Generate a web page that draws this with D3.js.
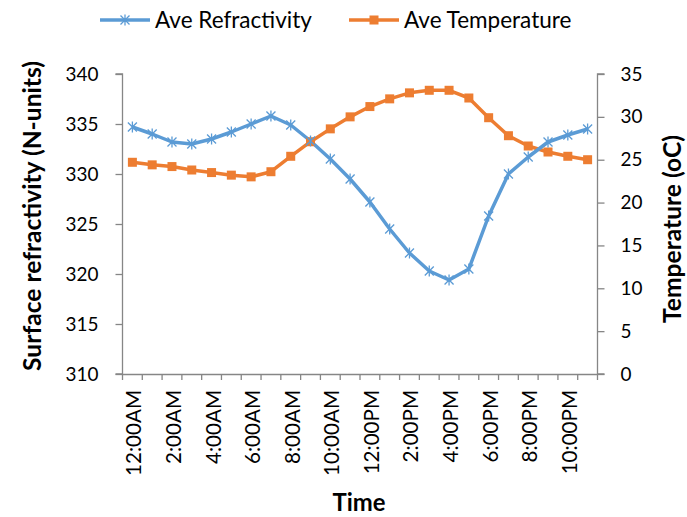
<!DOCTYPE html>
<html><head><meta charset="utf-8">
<script src="https://cdn.jsdelivr.net/npm/d3@7"></script>
<style>body{margin:0;background:#fff;} text{font-family:Lato, "Open Sans", sans-serif;}</style>
</head><body>
<svg id="c" width="687" height="517"></svg>
<script>
const hours = ["12:00AM","1:00AM","2:00AM","3:00AM","4:00AM","5:00AM","6:00AM","7:00AM","8:00AM","9:00AM","10:00AM","11:00AM",
"12:00PM","1:00PM","2:00PM","3:00PM","4:00PM","5:00PM","6:00PM","7:00PM","8:00PM","9:00PM","10:00PM","11:00PM"];
const refractivity = [334.7,334.0,333.2,333.0,333.5,334.2,335.0,335.8,334.9,333.3,331.5,329.5,
327.2,324.5,322.1,320.3,319.4,320.5,325.8,330.0,331.7,333.2,333.9,334.5];
const temperature = [24.7,24.4,24.2,23.8,23.5,23.2,23.0,23.6,25.4,27.1,28.6,30.0,
31.2,32.1,32.8,33.1,33.1,32.2,29.9,27.8,26.6,25.9,25.4,25.0];
const leftTicks = [310,315,320,325,330,335,340];
const rightTicks = [0,5,10,15,20,25,30,35];
const tickLabels = hours.filter((d,i)=>i%2===0);

const svg = d3.select("#c");
const x0 = 122.5, x1 = 597.5, yTop = 74, yBot = 374;
const x = d3.scaleBand().domain(hours).range([x0,x1]);
const yL = d3.scaleLinear().domain([310,340]).range([yBot,yTop]);
const yR = d3.scaleLinear().domain([0,35]).range([yBot,yTop]);
const axisCol = "#868686";

function fitSize(sample, target, base){
  const t = svg.append("text").attr("font-size",base).attr("font-weight",sample.bold?"bold":null).text(sample.text);
  const w = t.node().getComputedTextLength(); t.remove();
  return base*target/w;
}
const tickFont = fitSize({text:"340"},33,20);
const catFont = fitSize({text:"12:00AM"},86,18);
const legFont = fitSize({text:"Ave Refractivity"},157,20);
const yTitleFont = fitSize({text:"Surface refractivity (N-units)",bold:true},310,20);
const timeFont = fitSize({text:"Time",bold:true},53,20);

const gL = svg.append("g").attr("transform",`translate(${x0},0)`)
  .call(d3.axisLeft(yL).tickValues(leftTicks).tickSize(7).tickPadding(17).tickFormat(d3.format("d")));
const gR = svg.append("g").attr("transform",`translate(${x1},0)`)
  .call(d3.axisRight(yR).tickValues(rightTicks).tickSize(7).tickPadding(16).tickFormat(d3.format("d")));
const gB = svg.append("g").attr("transform",`translate(0,${yBot})`)
  .call(d3.axisBottom(x).tickValues([]).tickSizeOuter(0));
gB.selectAll("line.bt").data(d3.range(hours.length+1)).join("line").attr("class","bt")
  .attr("x1",i=>x0+i*x.step()).attr("x2",i=>x0+i*x.step()).attr("y1",0).attr("y2",6)
  .attr("stroke",axisCol).attr("stroke-width",1.3);
gB.selectAll("text.lb").data(tickLabels).join("text").attr("class","lb")
  .attr("transform",d=>`translate(${x(d)+x.bandwidth()/2+9},16) rotate(-90)`)
  .attr("text-anchor","end").attr("font-size",catFont).attr("fill","#000").text(d=>d);

[gL,gR,gB].forEach(g=>{
  g.select(".domain").attr("stroke",axisCol).attr("stroke-width",1.3);
  g.selectAll(".tick line").attr("stroke",axisCol).attr("stroke-width",1.3);
  g.selectAll(".tick text").attr("font-size",tickFont).attr("fill","#000").attr("font-family","Lato, sans-serif");
});
gL.select(".domain").attr("d",`M-7,${yTop}H0V${yBot}H-7`);
gR.select(".domain").attr("d",`M7,${yTop}H0V${yBot}H7`);

const cx = d => x(d)+x.bandwidth()/2;
const blue = "#5B9BD5", orange = "#ED7D31";

svg.append("path").datum(temperature).attr("fill","none").attr("stroke",orange).attr("stroke-width",3.5)
  .attr("stroke-linejoin","round")
  .attr("d",d3.line().x((d,i)=>cx(hours[i])).y(d=>yR(d)));
svg.append("path").datum(refractivity).attr("fill","none").attr("stroke",blue).attr("stroke-width",3.5)
  .attr("stroke-linejoin","round")
  .attr("d",d3.line().x((d,i)=>cx(hours[i])).y(d=>yL(d)));

function star(g, px, py, s){
  g.append("path").attr("d",`M${px-s},${py-s}L${px+s},${py+s}M${px-s},${py+s}L${px+s},${py-s}M${px},${py-s-1}L${px},${py+s+1}`)
   .attr("stroke",blue).attr("stroke-width",1.3).attr("fill","none");
}
svg.append("g").selectAll("rect").data(temperature).join("rect")
  .attr("x",(d,i)=>cx(hours[i])-4.5).attr("y",d=>yR(d)-4.5).attr("width",9).attr("height",9).attr("fill",orange);
const gs = svg.append("g");
refractivity.forEach((d,i)=>star(gs, cx(hours[i]), yL(d), 4.5));

svg.append("text").attr("transform",`translate(41,216) rotate(-90)`).attr("text-anchor","middle")
  .attr("font-size",yTitleFont).attr("font-weight","bold").text("Surface refractivity (N-units)");
svg.append("text").attr("transform",`translate(681,229) rotate(-90)`).attr("text-anchor","middle")
  .attr("font-size",yTitleFont).attr("font-weight","bold").text("Temperature (oC)");
svg.append("text").attr("x",359).attr("y",511).attr("text-anchor","middle")
  .attr("font-size",timeFont).attr("font-weight","bold").text("Time");

const leg = svg.append("g");
leg.append("line").attr("x1",100).attr("x2",150).attr("y1",20).attr("y2",20).attr("stroke",blue).attr("stroke-width",3.5);
star(leg,125,20,4.5);
leg.append("text").attr("x",155).attr("y",28).attr("font-size",legFont).text("Ave Refractivity");
leg.append("line").attr("x1",349).attr("x2",399).attr("y1",20).attr("y2",20).attr("stroke",orange).attr("stroke-width",3.5);
leg.append("rect").attr("x",369.5).attr("y",15.5).attr("width",9).attr("height",9).attr("fill",orange);
leg.append("text").attr("x",404).attr("y",28).attr("font-size",legFont).text("Ave Temperature");
</script>
</body></html>
